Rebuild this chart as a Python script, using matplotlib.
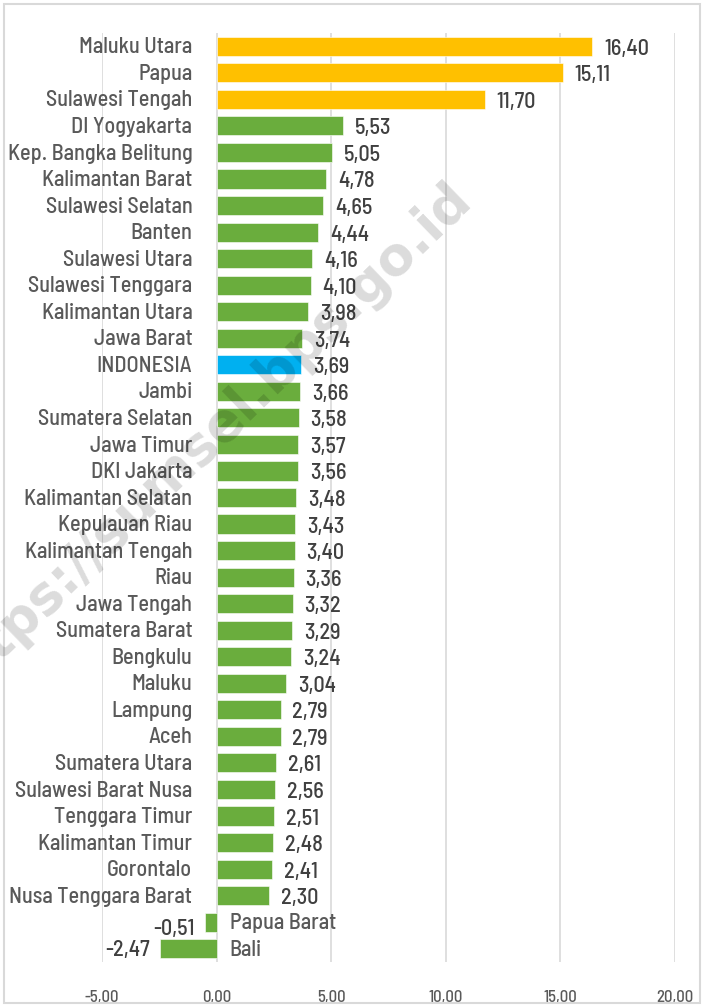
import matplotlib
matplotlib.use("Agg")
import matplotlib.pyplot as plt
from matplotlib.patches import Rectangle

categories = ["Maluku Utara", "Papua", "Sulawesi Tengah", "DI Yogyakarta",
              "Kep. Bangka Belitung", "Kalimantan Barat", "Sulawesi Selatan",
              "Banten", "Sulawesi Utara", "Sulawesi Tenggara", "Kalimantan Utara",
              "Jawa Barat", "INDONESIA", "Jambi", "Sumatera Selatan", "Jawa Timur",
              "DKI Jakarta", "Kalimantan Selatan", "Kepulauan Riau",
              "Kalimantan Tengah", "Riau", "Jawa Tengah", "Sumatera Barat",
              "Bengkulu", "Maluku", "Lampung", "Aceh", "Sumatera Utara",
              "Sulawesi Barat Nusa", "Tenggara Timur", "Kalimantan Timur",
              "Gorontalo", "Nusa Tenggara Barat", "Papua Barat", "Bali"]
values = [16.40, 15.11, 11.70, 5.53, 5.05, 4.78, 4.65, 4.44, 4.16, 4.10, 3.98,
          3.74, 3.69, 3.66, 3.58, 3.57, 3.56, 3.48, 3.43, 3.40, 3.36, 3.32, 3.29,
          3.24, 3.04, 2.79, 2.79, 2.61, 2.56, 2.51, 2.48, 2.41, 2.30, -0.51, -2.47]
top_group = ["Maluku Utara", "Papua", "Sulawesi Tengah"]
national = "INDONESIA"
xticks = [-5, 0, 5, 10, 15, 20]
watermark = "https://sumsel.bps.go.id"

fam = ["Barlow Semi Condensed", "DejaVu Sans"]
W = 500

YELLOW = "#FFC000"
GREEN = "#6AAD3D"
BLUE = "#00B0F0"
GRAY = "#595959"
DARK = "#404040"

fig = plt.figure(figsize=(7.04, 10.06), dpi=100)
ax = fig.add_axes([102/704, 1-962/1006, (675-102)/704, (962-33)/1006])

colors = []
for c in categories:
    if c in top_group:
        colors.append(YELLOW)
    elif c == national:
        colors.append(BLUE)
    else:
        colors.append(GREEN)

ypos = list(range(len(categories)))
ax.barh(ypos, values, height=0.72, color=colors, zorder=3,
        edgecolor="white", linewidth=0.4)
ax.set_xlim(-5, 20)
ax.set_ylim(len(categories) - 0.5, -0.5)
ax.set_xticks(xticks)
ax.set_xticklabels([f"{t:.2f}".replace(".", ",") for t in xticks],
                   fontsize=12, color=GRAY, family=fam, fontweight=W)
ax.tick_params(axis="x", length=0, pad=20)
ax.set_yticks([])
for s in ax.spines.values():
    s.set_visible(False)
ax.grid(axis="x", color="#D9D9D9", linewidth=1.2, zorder=0)
ax.set_axisbelow(True)

for y, (c, v) in enumerate(zip(categories, values)):
    lab = f"{v:.2f}".replace(".", ",")
    if v >= 0:
        ax.annotate(c, xy=(0, y), xytext=(-17.5, -0.8), textcoords="offset points",
                    ha="right", va="center", fontsize=16, color=GRAY, family=fam,
                    fontweight=W)
        ax.annotate(lab, xy=(v, y), xytext=(8.5, -1.8), textcoords="offset points",
                    ha="left", va="center", fontsize=16, color=DARK, family=fam,
                    fontweight=W)
    else:
        ax.annotate(c, xy=(0, y), xytext=(9.5, -0.8), textcoords="offset points",
                    ha="left", va="center", fontsize=16, color=GRAY, family=fam,
                    fontweight=W)
        ax.annotate(lab, xy=(v, y), xytext=(-7, -5 if v > -1 else -1),
                    textcoords="offset points",
                    ha="right", va="center", fontsize=16, color=DARK, family=fam,
                    fontweight=W)

# watermark
fig.text(203/704, 1-441/1006, watermark, rotation=44, ha="center", va="center",
         fontsize=38, fontweight="bold", color="black", alpha=0.14,
         family="DejaVu Sans", zorder=10, rotation_mode="anchor")

# outer border
fig.patches.append(Rectangle((4/704, 3/1006), 696/704, 999/1006, transform=fig.transFigure,
                             fill=False, edgecolor="#D9D9D9", linewidth=1.5))

fig.savefig("out.png", dpi=100, facecolor="white")
